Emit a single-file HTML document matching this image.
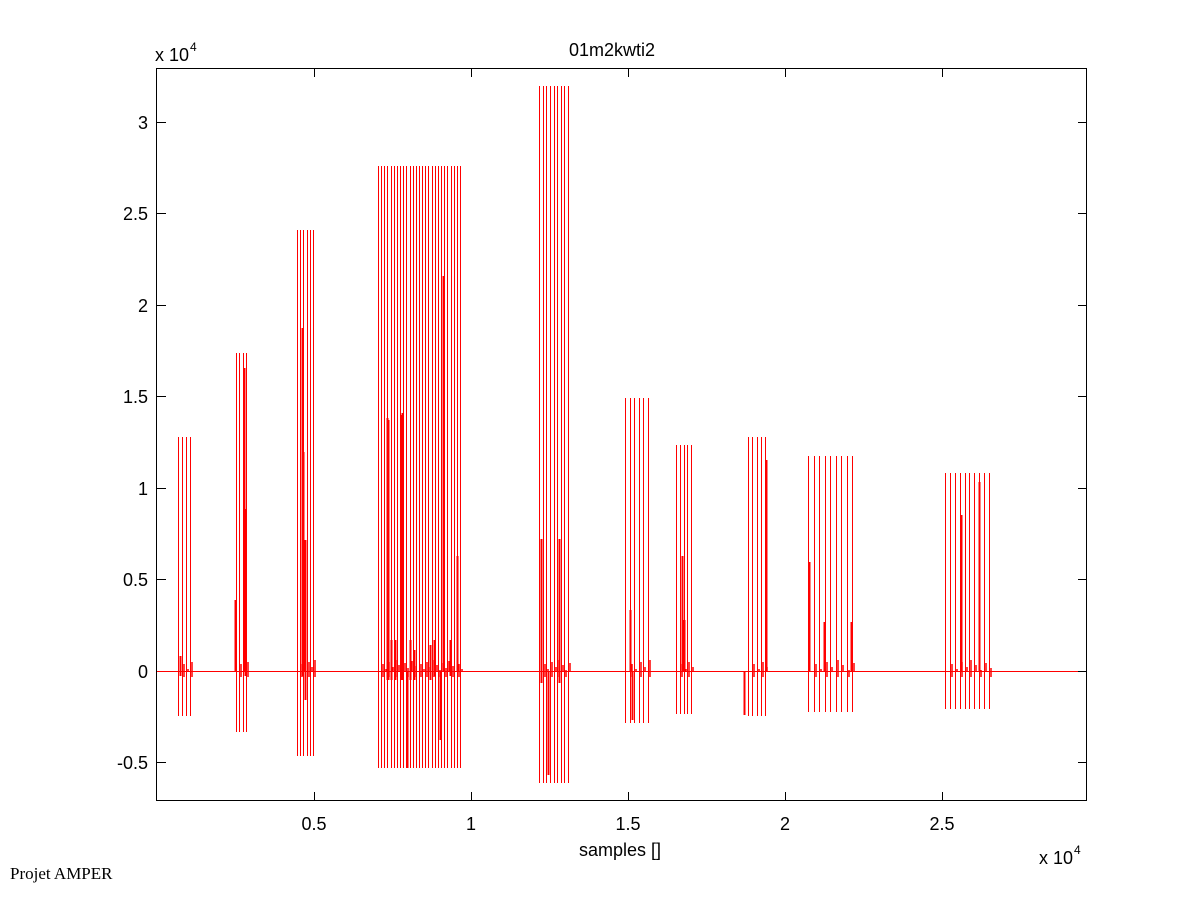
<!DOCTYPE html>
<html><head><meta charset="utf-8"><style>
html,body{margin:0;padding:0;background:#fff;}
svg{display:block;font-family:"Liberation Sans",sans-serif;}
</style></head><body>
<svg id="s" width="1201" height="901" xmlns="http://www.w3.org/2000/svg">
<rect width="1201" height="901" fill="#fff"/>
<g id="d" stroke="#ff0000" stroke-width="1"></g>
<rect x="157" y="671" width="930" height="1" fill="#ff0000"/>
<rect x="156.5" y="68.5" width="930" height="732" fill="none" stroke="#000" stroke-width="1"/>
<g stroke="#000" stroke-width="1">
<line x1="314.5" y1="801" x2="314.5" y2="792"/><line x1="314.5" y1="68" x2="314.5" y2="77"/>
<line x1="471.5" y1="801" x2="471.5" y2="792"/><line x1="471.5" y1="68" x2="471.5" y2="77"/>
<line x1="628.5" y1="801" x2="628.5" y2="792"/><line x1="628.5" y1="68" x2="628.5" y2="77"/>
<line x1="785.5" y1="801" x2="785.5" y2="792"/><line x1="785.5" y1="68" x2="785.5" y2="77"/>
<line x1="942.5" y1="801" x2="942.5" y2="792"/><line x1="942.5" y1="68" x2="942.5" y2="77"/>
<line x1="157" y1="762.5" x2="166" y2="762.5"/><line x1="1087" y1="762.5" x2="1078" y2="762.5"/>
<line x1="1087" y1="671.5" x2="1078" y2="671.5"/>
<line x1="157" y1="579.5" x2="166" y2="579.5"/><line x1="1087" y1="579.5" x2="1078" y2="579.5"/>
<line x1="157" y1="488.5" x2="166" y2="488.5"/><line x1="1087" y1="488.5" x2="1078" y2="488.5"/>
<line x1="157" y1="396.5" x2="166" y2="396.5"/><line x1="1087" y1="396.5" x2="1078" y2="396.5"/>
<line x1="157" y1="305.5" x2="166" y2="305.5"/><line x1="1087" y1="305.5" x2="1078" y2="305.5"/>
<line x1="157" y1="213.5" x2="166" y2="213.5"/><line x1="1087" y1="213.5" x2="1078" y2="213.5"/>
<line x1="157" y1="122.5" x2="166" y2="122.5"/><line x1="1087" y1="122.5" x2="1078" y2="122.5"/>
</g>
<g font-size="18" fill="#000" text-anchor="end">
<text x="148" y="769">-0.5</text><text x="148" y="678">0</text><text x="148" y="586">0.5</text>
<text x="148" y="495">1</text><text x="148" y="403">1.5</text><text x="148" y="312">2</text>
<text x="148" y="220">2.5</text><text x="148" y="129">3</text>
</g>
<g font-size="18" fill="#000" text-anchor="middle">
<text x="314" y="830">0.5</text><text x="471" y="830">1</text><text x="628" y="830">1.5</text>
<text x="785" y="830">2</text><text x="942" y="830">2.5</text>
<text x="612" y="56">01m2kwti2</text>
<text x="620" y="856">samples []</text>
</g>
<text x="155" y="61" font-size="18">x 10</text><text x="190" y="51" font-size="12">4</text>
<text x="1039" y="864" font-size="18">x 10</text><text x="1074" y="854" font-size="12">4</text>
<text x="10" y="879" font-size="17" font-family="Liberation Serif,serif">Projet AMPER</text>
</svg>
<script>
var g=document.getElementById('d'),s='';
var B=[[178,190,4,437,716],[236,246,4,353,732],[297,313,6,230,756],[378,460,27,166,768],[539,568,9,86,783],[625,648,6,398,723],[676,691,5,445,714],[748,765,5,437,716],[808,852,9,456,712],[945,989,10,473,709]];
B.forEach(function(b){for(var i=0;i<b[2];i++){var x=Math.round(b[0]+(b[1]-b[0])*i/(b[2]-1))+0.5;s+='<line x1="'+x+'" y1="'+b[3]+'" x2="'+x+'" y2="'+b[4]+'"/>';
var x2=x+1.5;s+='<line x1="'+x2+'" y1="'+(671-((i*7)%12))+'" x2="'+x2+'" y2="'+(672+((i*5)%10))+'" stroke-width="1.5"/>';}});
var E=[[180,656,676],[235,600,671],[244,368,671],[245,509,676],[302,328,676],[303,452,671],[305,540,700],[387,418,680],[388,420,680],[401,415,680],[402,413,680],[407,671,768],[443,276,671],[440,671,740],[457,556,671],[541,539,683],[559,539,683],[548,671,775],[630,610,671],[632,671,720],[682,556,671],[684,620,671],[744,671,715],[766,460,671],[809,562,671],[824,622,671],[851,622,671],[961,515,671],[979,482,671],[391,640,680],[395,640,680],[410,640,680],[414,650,680],[430,645,680],[434,640,676],[450,640,676]];
E.forEach(function(e){s+='<line x1="'+(e[0]+0.5)+'" y1="'+e[1]+'" x2="'+(e[0]+0.5)+'" y2="'+e[2]+'" stroke-width="2"/>';});
g.innerHTML=s;
</script>
</body></html>
